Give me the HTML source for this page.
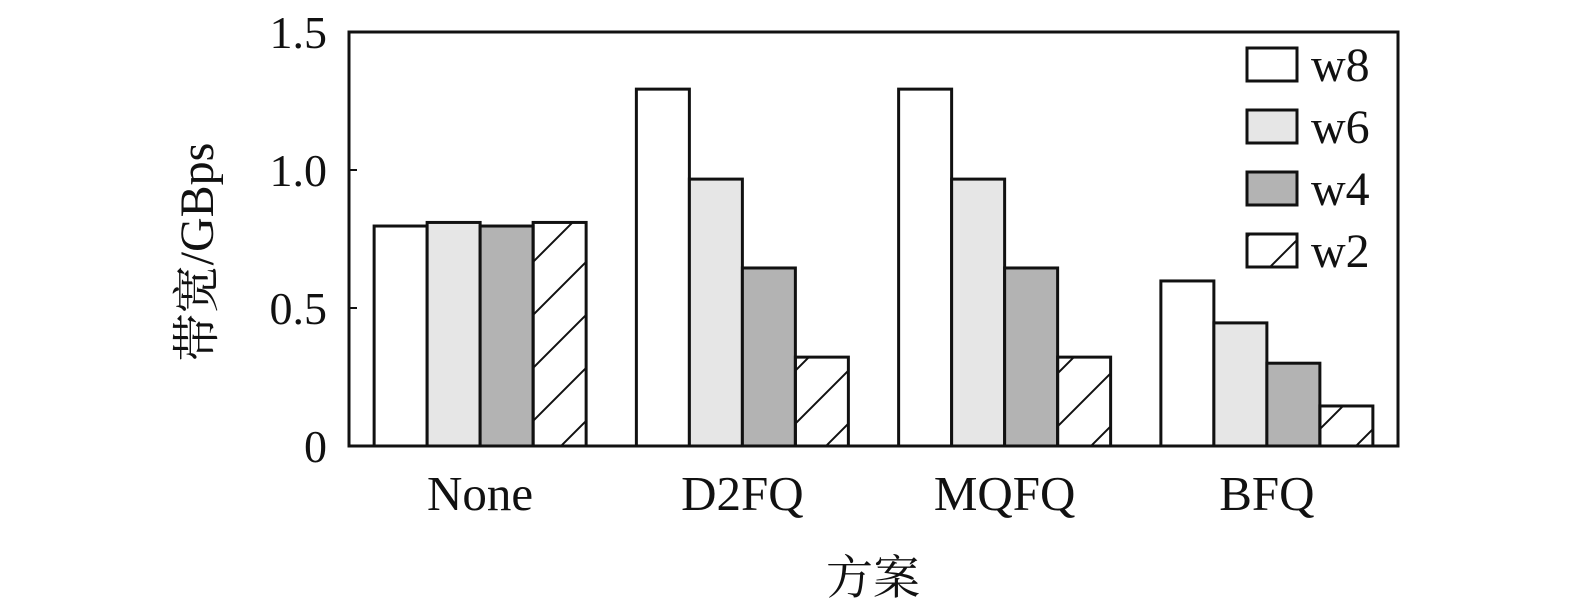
<!DOCTYPE html>
<html><head><meta charset="utf-8"><style>
html,body{margin:0;padding:0;background:#fff;}
svg text{font-family:"Liberation Serif","Noto Serif CJK SC",serif;fill:#111;}
</style></head><body>
<svg width="1575" height="610" viewBox="0 0 1575 610">
<defs>
<pattern id="hatch" patternUnits="userSpaceOnUse" width="53" height="53">
<path d="M0,53 L53,0 M-10,10 L10,-10 M43,63 L63,43" stroke="#111" stroke-width="2"/>
</pattern>
</defs>
<g id="bars"></g>
<g id="axes"></g>
<g id="legend"></g>
<text x="-252" y="213" transform="rotate(-90)" font-size="48" text-anchor="middle">带宽/GBps</text>
<text x="873" y="594" font-size="47" text-anchor="middle">方案</text>
</svg>
<script>
const categories = ["None","D2FQ","MQFQ","BFQ"];
const seriesNames = ["w8","w6","w4","w2"];
const w8 = [0.797,1.293,1.293,0.598];
const w6 = [0.81,0.967,0.967,0.446];
const w4 = [0.797,0.645,0.645,0.30];
const w2 = [0.81,0.322,0.322,0.145];
const yTicks = [0,0.5,1.0,1.5];
const yTickLabels = ["0","0.5","1.0","1.5"];

const NS="http://www.w3.org/2000/svg";
const X0=349,X1=1398,Y0=446,Y1=32,YMAX=1.5;
const fills=["#fff","#e6e6e6","#b3b3b3","url(#hatch)"];
const series=[w8,w6,w4,w2];
const groupW=(X1-X0)/categories.length, barW=53;
function yS(v){return Y0-(v/YMAX)*(Y0-Y1);}
function xS(ci,si){return X0+groupW*(ci+0.5)-barW*series.length/2+si*barW;}
function mk(tag,attrs,parent){const e=document.createElementNS(NS,tag);for(const k in attrs)e.setAttribute(k,attrs[k]);parent.appendChild(e);return e;}
const bars=document.getElementById('bars'),axes=document.getElementById('axes'),legend=document.getElementById('legend');
categories.forEach((c,ci)=>{
 series.forEach((s,si)=>{
  const r=mk('rect',{x:xS(ci,si),y:yS(s[ci]),width:barW,height:Y0-yS(s[ci]),fill:fills[si],stroke:'#111','stroke-width':3},bars);
  
  
 });
 const t=mk('text',{x:X0+groupW*(ci+0.5),y:510,'font-size':49,'text-anchor':'middle'},axes);
 t.textContent=c;
 
 
});
const frame=mk('rect',{x:X0,y:Y1,width:X1-X0,height:Y0-Y1,fill:'none',stroke:'#111','stroke-width':3},axes);


yTicks.forEach((v,i)=>{
 mk('line',{x1:X0,x2:X0+8,y1:yS(v),y2:yS(v),stroke:'#111','stroke-width':2},axes);
 const t=mk('text',{x:327,y:yS(v)+16,'font-size':46,'text-anchor':'end'},axes);
 t.textContent=yTickLabels[i];
 
 
});
seriesNames.forEach((n,i)=>{
 const y=48+i*62;
 const r=mk('rect',{x:1247,y:y,width:50,height:33,fill:fills[i],stroke:'#111','stroke-width':3},legend);
 
 
 const t=mk('text',{x:1311,y:y+33,'font-size':48},legend);
 t.textContent=n;
 
 
});
</script>
</body></html>
